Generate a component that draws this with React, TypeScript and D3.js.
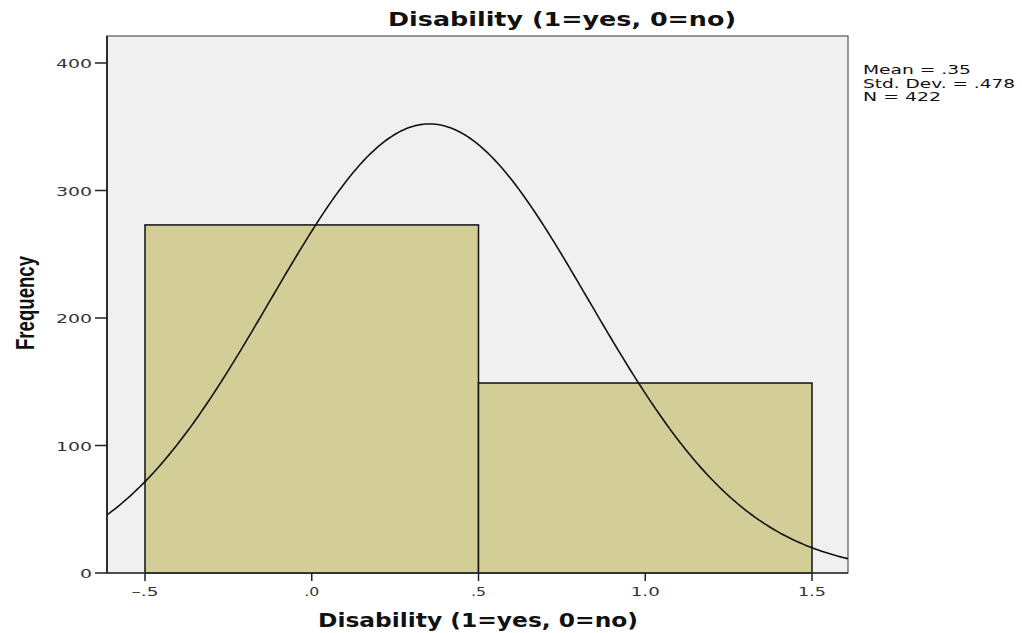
import React from "react";
import * as d3 from "d3";

const binStarts = [-0.5, 0.5];
const binEnds = [0.5, 1.5];
const binCounts = [273, 149];
const xTicks = [-0.5, 0, 0.5, 1.0, 1.5];
const xTickLabels = ["\u2013.5", ".0", ".5", "1.0", "1.5"];
const yTicks = [0, 100, 200, 300, 400];
const statMean = 0.353;
const statSD = 0.478;
const statN = 422;
const statLines = ["Mean = .35", "Std. Dev. = .478", "N = 422"];
const title = "Disability (1=yes, 0=no)";
const yTitle = "Frequency";

export default function App() {
  const W = 1022, H = 633;
  const left = 107, right = 848, top = 36, bottom = 573;
  const x = d3.scaleLinear().domain([-0.5, 1.5]).range([145, 812]);
  const xDomain = [x.invert(left), x.invert(right)];
  const y = d3.scaleLinear().domain([0, 400]).range([bottom, 63]);
  const binW = 1;
  const pdf = (v: number) =>
    (statN * binW) / (statSD * Math.sqrt(2 * Math.PI)) *
    Math.exp(-0.5 * ((v - statMean) / statSD) ** 2);
  const pts = d3.range(0, 301).map((i) => {
    const v = xDomain[0] + ((xDomain[1] - xDomain[0]) * i) / 300;
    return [x(v), y(pdf(v))] as [number, number];
  });
  const line = d3.line().curve(d3.curveLinear)(pts) || "";
  const font = "'DejaVu Sans', sans-serif";
  const xLabelW = [27, 15, 15, 29, 28];
  const statW = [108, 152, 78];
  return (
    <svg width={W} height={H} style={{ position: "absolute", left: 0, top: 0 }}>
      <defs>
        <clipPath id="plotclip">
          <rect x={left} y={top} width={right - left} height={bottom - top} />
        </clipPath>
      </defs>
      <rect x={0} y={0} width={W} height={H} fill="#fff" />
      <rect x={left} y={top} width={right - left} height={bottom - top} fill="#f0f0f0" stroke="#555" strokeWidth={1.2} />
      {binCounts.map((c, i) => (
        <rect key={i} x={x(binStarts[i])} y={y(c)} width={x(binEnds[i]) - x(binStarts[i])} height={bottom - y(c)}
          fill="#d3cd97" stroke="#111" strokeWidth={1.5} />
      ))}
      <path d={line} fill="none" stroke="#111" strokeWidth={1.6} clipPath="url(#plotclip)" />
      <line x1={left} x2={left} y1={top} y2={bottom} stroke="#222" strokeWidth={1.8} />
      <line x1={left} x2={right} y1={bottom} y2={bottom} stroke="#333" strokeWidth={1.6} />
      {yTicks.map((t) => (
        <g key={t}>
          <line x1={left - 12} x2={left} y1={y(t)} y2={y(t)} stroke="#222" strokeWidth={1.5} />
          <text x={left - 15} y={y(t) + 5} textAnchor="end" fontFamily={font} fontSize={13} fill="#333"
            textLength={String(t).length * 12} lengthAdjust="spacingAndGlyphs">{t}</text>
        </g>
      ))}
      {xTicks.map((t, i) => (
        <g key={t}>
          <line x1={x(t)} x2={x(t)} y1={bottom} y2={bottom + 8} stroke="#222" strokeWidth={1.5} />
          <text x={x(t)} y={bottom + 23} textAnchor="middle" fontFamily={font} fontSize={13} fill="#333"
            textLength={xLabelW[i]} lengthAdjust="spacingAndGlyphs">{xTickLabels[i]}</text>
        </g>
      ))}
      <text x={562} y={26} textAnchor="middle" fontFamily={font} fontWeight="bold" fontSize={19} fill="#111" textLength={348} lengthAdjust="spacingAndGlyphs">{title}</text>
      <text x={478} y={627} textAnchor="middle" fontFamily={font} fontWeight="bold" fontSize={19} fill="#111" textLength={320} lengthAdjust="spacingAndGlyphs">{title}</text>
      <text transform="translate(34,303) rotate(-90)" textAnchor="middle" fontFamily="'Liberation Sans Narrow', 'Liberation Sans', sans-serif" fontWeight="bold" fontSize={26} fill="#111" textLength={94} lengthAdjust="spacingAndGlyphs">{yTitle}</text>
      {statLines.map((s, i) => (
        <text key={i} x={863} y={74 + i * 13.5} fontFamily={font} fontSize={13} fill="#111"
          textLength={statW[i]} lengthAdjust="spacingAndGlyphs">{s}</text>
      ))}
    </svg>
  );
}
